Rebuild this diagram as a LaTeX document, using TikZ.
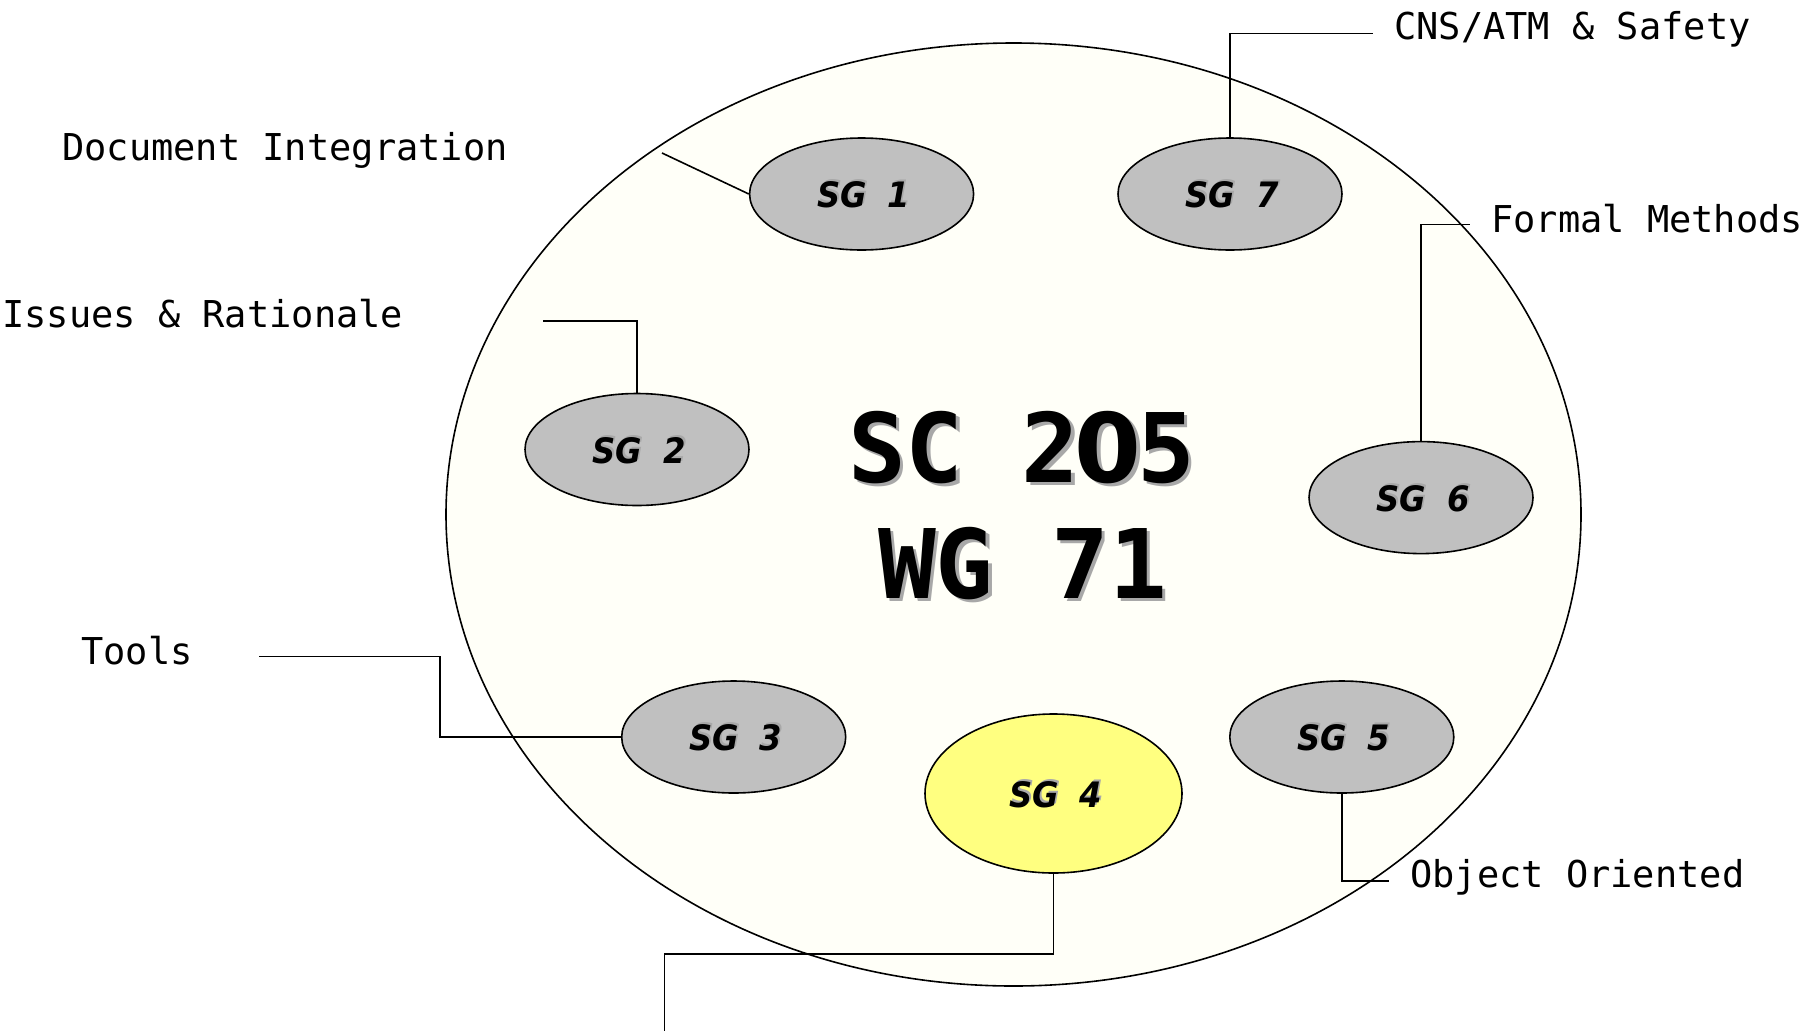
\documentclass[tikz,border=0pt]{standalone}
\usepackage{fontspec}
\usetikzlibrary{shapes.geometric}
\newfontfamily\lblfont{DejaVu Sans Mono}
\newfontfamily\sgfont{DejaVu Sans}[FakeStretch=0.92]
\newfontfamily\zerofont{DejaVu Sans}
\definecolor{paper}{HTML}{FFFFF8}
\definecolor{sggray}{HTML}{C0C0C0}
\definecolor{sgyellow}{HTML}{FFFF80}
\definecolor{shade}{gray}{0.66}
% plain (undotted) zero set in the mono advance width
\newcommand{\plainzero}{\makebox[0.602em][c]{\zerofont\bfseries 0}}
\begin{document}
\begin{tikzpicture}[x=1pt,y=-1pt,
  lbl/.style={font=\lblfont\fontsize{37}{44}\selectfont, anchor=base west, inner sep=0pt},
  sg/.style={ellipse, draw, line width=1.6pt, fill=sggray, minimum width=224pt, minimum height=112pt, inner sep=0pt},
  sgtext/.style={font=\sgfont\bfseries\itshape\fontsize{35}{42}\selectfont, inner sep=0pt},
  title/.style={font=\lblfont\bfseries\fontsize{96}{115}\selectfont, anchor=base, inner sep=0pt},
  wire/.style={line width=1.6pt}]
\useasboundingbox[fill=white] (0,0) rectangle (1806,1031);

% working group boundary
\node[ellipse, draw, line width=1.6pt, fill=paper, minimum width=1135pt, minimum height=943pt, inner sep=0pt] (wg) at (1013.5,514.5) {};

% free ends of the leader lines
\coordinate (e1) at (662,153);
\coordinate (e2) at (542.5,321);
\coordinate (k3) at (440,656.5);
\coordinate (e3) at (259,656.5);
\coordinate (k4) at (664.6,953.7);
\coordinate (e4) at (664.6,1031);
\coordinate (e5) at (1389,881);
\coordinate (e6) at (1470,224.6);
\coordinate (e7) at (1373,33.4);

% subgroups
\node[sg] (sg1) at (861.6,194) {};
\node[sg] (sg7) at (1230,194) {};
\node[sg] (sg2) at (637,449.5) {};
\node[sg] (sg6) at (1421,497.6) {};
\node[sg] (sg3) at (733.7,737) {};
\node[sg] (sg5) at (1341.8,737) {};
\node[sg, fill=sgyellow, minimum width=257pt, minimum height=159pt] (sg4) at (1053.5,793.5) {};

% leader lines
\draw[wire] (sg1.west) -- (e1);
\draw[wire] (sg2.north) |- (e2);
\draw[wire] (sg3.west) -| (k3) -- (e3);
\draw[wire] (sg4.south) |- (k4) -- (e4);
\draw[wire] (sg5.south) |- (e5);
\draw[wire] (sg6.north) |- (e6);
\draw[wire] (sg7.north) |- (e7);

% subgroup names with soft shadow
\foreach \n/\t in {sg1/1, sg2/2, sg3/3, sg4/4, sg5/5, sg6/6, sg7/7}{
  \node[sgtext, text=shade] (\n s) at ([shift={(4pt,1pt)}]\n.center) {SG\hspace{0.6em}\t};
  \node[sgtext] (\n t) at ([shift={(2pt,-1pt)}]\n.center) {SG\hspace{0.6em}\t};
}

% central title with shadow
\node[title, text=shade] (ts1) at (1025,485) {SC 2\plainzero5};
\node[title, text=shade] (ts2) at (1026,601) {WG 71};
\node[title] (t1) at (1021.5,482) {SC 2\plainzero5};
\node[title] (t2) at (1022.5,598) {WG 71};

% topic labels
\node[lbl] (l1) at (62,160) {Document Integration};
\node[lbl] (l2) at (2,327) {Issues \& Rationale};
\node[lbl] (l3) at (81,664) {Tools};
\node[lbl] (l5) at (1410,887) {Object Oriented};
\node[lbl] (l6) at (1491,232) {Formal Methods};
\node[lbl] (l7) at (1394,39) {CNS/ATM \& Safety};
\end{tikzpicture}
\end{document}
